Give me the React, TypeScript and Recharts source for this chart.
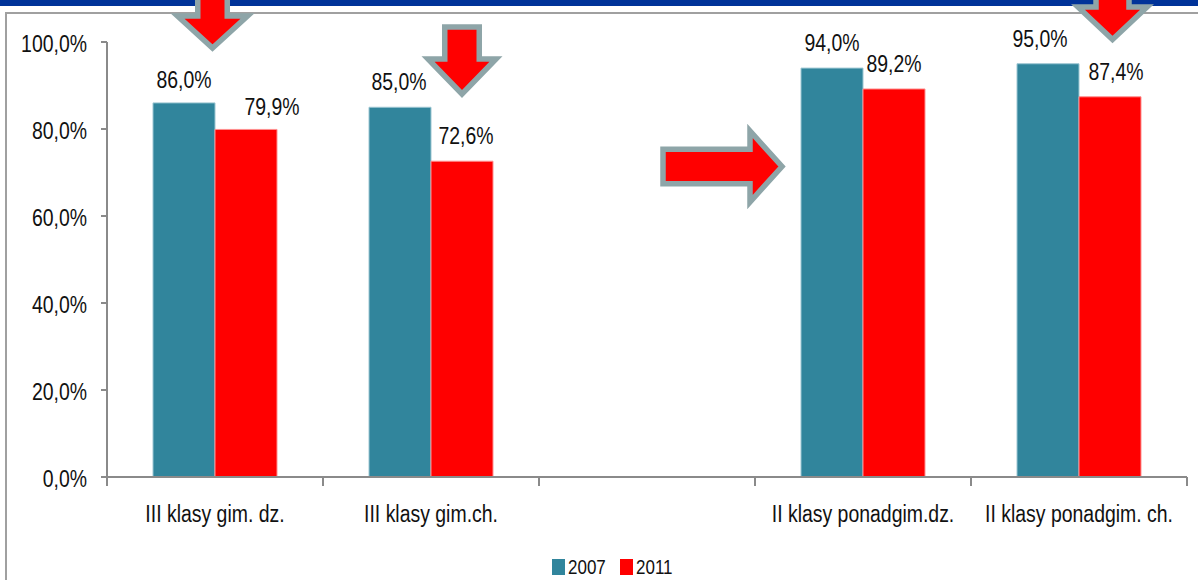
import { BarChart, Bar, XAxis, YAxis, LabelList, Legend } from "recharts";

const categories = ["III klasy gim. dz.", "III klasy gim.ch.", "", "II klasy ponadgim.dz.", "II klasy ponadgim. ch."];
const values2007 = [0.86, 0.85, null, 0.94, 0.95];
const values2011 = [0.799, 0.726, null, 0.892, 0.874];
const yTicks = [0, 0.2, 0.4, 0.6, 0.8, 1];
const seriesNames = ["2007", "2011"];
const seriesColors = ["#31859C", "#FF0000"];
const seriesStrokes = ["#9CC6D2", "#FF9090"];

// labels were nudged by hand in the original (to clear the arrows)
const labelShift2007 = [[0, 2], [-1, 0], [0, 0], [-8, 0], [-25, -2]];
const labelShift2011 = [[26, 3], [4, 0], [0, 0], [6, 0], [6, 0]];

const data = categories.map((name, i) => ({ name, s2007: values2007[i], s2011: values2011[i] }));

// no narrow font installed, so Liberation Sans squeezed like Arial Narrow
const FONT = "'Liberation Sans', Arial, sans-serif";
const NARROW = 0.81;
const AXIS = "#8A8A8A";

const pct = (v: number) => (v * 100).toFixed(1).replace(".", ",") + "%";

function NarrowText({ x, y, anchor = "middle", size = 24, children }: any) {
  return (
    <text transform={`translate(${x},${y}) scale(${NARROW},1)`} textAnchor={anchor} fontFamily={FONT} fontSize={size} fill="#111">
      {children}
    </text>
  );
}

function YTick({ x, y, payload }: any) {
  return (
    <NarrowText x={x} y={y + 10} anchor="end">
      {pct(payload.value)}
    </NarrowText>
  );
}

function XTick({ x, y, payload, index, visibleTicksCount }: any) {
  const half = payload.offset;
  const last = index === visibleTicksCount - 1;
  return (
    <g>
      <line x1={x - half} x2={x - half} y1={y} y2={y + 9} stroke={AXIS} strokeWidth={2} />
      {last && <line x1={x + half} x2={x + half} y1={y} y2={y + 9} stroke={AXIS} strokeWidth={2} />}
      <NarrowText x={x} y={y + 45}>{payload.value}</NarrowText>
    </g>
  );
}

function makeLabel(shifts: number[][]) {
  return function BarLabel({ x, y, width, value, index }: any) {
    if (value == null) return null;
    const [dx, dy] = shifts[index] || [0, 0];
    return <NarrowText x={x + width / 2 + dx} y={y - 17 + dy}>{pct(value)}</NarrowText>;
  };
}
const Label2007 = makeLabel(labelShift2007);
const Label2011 = makeLabel(labelShift2011);

function LegendContent({ payload }: any) {
  const items = payload || [];
  return (
    <svg width={130} height={30} style={{ display: "block" }}>
      {items.map((p: any, i: number) => (
        <g key={p.value} transform={`translate(${i * 68},0)`}>
          <rect x={0} y={5} width={13} height={16} fill={p.color} />
          <NarrowText x={16} y={20} anchor="start" size={21}>{p.value}</NarrowText>
        </g>
      ))}
    </svg>
  );
}

function downArrow(cx: number, top: number, sh: number, hh: number, headY: number, tipY: number) {
  return [
    [cx - sh, top], [cx + sh, top], [cx + sh, headY], [cx + hh, headY],
    [cx, tipY], [cx - hh, headY], [cx - sh, headY],
  ].map((p) => p.join(",")).join(" ");
}

function rightArrow(cy: number, left: number, sh: number, hh: number, headX: number, tipX: number) {
  return [
    [left, cy - sh], [headX, cy - sh], [headX, cy - hh], [tipX, cy],
    [headX, cy + hh], [headX, cy + sh], [left, cy + sh],
  ].map((p) => p.join(",")).join(" ");
}

const arrows = [
  downArrow(212.5, -10, 14.75, 35, 16, 48),
  downArrow(462, 27, 17.25, 34, 59, 94),
  rightArrow(166.5, 663, 17.25, 35.5, 750, 782),
  downArrow(1112.5, -10, 16.5, 34.5, 7, 39.5),
];

export default function App() {
  return (
    <div style={{ position: "absolute", left: 0, top: 0, width: 1198, height: 580, overflow: "hidden", background: "#fff" }}>
      <div style={{ position: "absolute", left: 0, top: 0, width: 1198, height: 6, background: "#003399" }} />
      <div style={{ position: "absolute", left: 5, top: 12, width: 2000, height: 1000, border: "2px solid #A0A0A0" }} />
      <div style={{ position: "absolute", left: 0, top: 0 }}>
        <BarChart
          width={1198}
          height={580}
          data={data}
          margin={{ top: 42, right: 11, bottom: 43, left: 0 }}
          barCategoryGap={46}
          barGap={0}
        >
          <YAxis
            width={107}
            domain={[0, 1]}
            ticks={yTicks}
            interval={0}
            axisLine={{ stroke: AXIS, strokeWidth: 2 }}
            tickLine={{ stroke: AXIS, strokeWidth: 2 }}
            tickSize={6}
            tickMargin={14}
            tick={<YTick />}
          />
          <XAxis
            dataKey="name"
            height={60}
            interval={0}
            axisLine={{ stroke: AXIS, strokeWidth: 2 }}
            tickLine={false}
            tickSize={0}
            tickMargin={0}
            tick={<XTick />}
          />
          <Legend
            verticalAlign="middle"
            align="center"
            layout="horizontal"
            wrapperStyle={{ left: 552, top: 554, width: 130, height: 30 }}
            content={<LegendContent />}
          />
          <Bar dataKey="s2007" name={seriesNames[0]} fill={seriesColors[0]} stroke={seriesStrokes[0]} strokeWidth={1} isAnimationActive={false}>
            <LabelList dataKey="s2007" content={<Label2007 />} />
          </Bar>
          <Bar dataKey="s2011" name={seriesNames[1]} fill={seriesColors[1]} stroke={seriesStrokes[1]} strokeWidth={1} isAnimationActive={false}>
            <LabelList dataKey="s2011" content={<Label2011 />} />
          </Bar>
        </BarChart>
      </div>
      <svg width={1198} height={580} style={{ position: "absolute", left: 0, top: 0, pointerEvents: "none" }}>
        {arrows.map((pts, i) => (
          <polygon key={i} points={pts} fill="#FF0000" stroke="#8EA5A8" strokeWidth={5.5} strokeLinejoin="miter" strokeMiterlimit={10} />
        ))}
      </svg>
    </div>
  );
}
